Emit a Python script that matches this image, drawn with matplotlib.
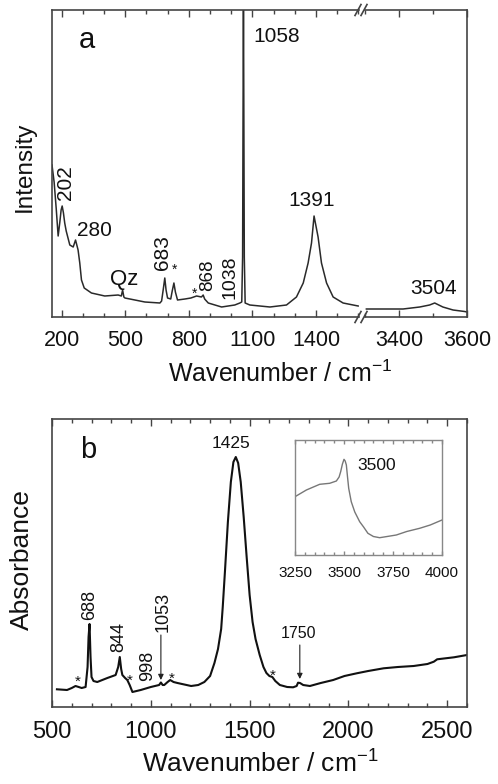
import matplotlib
matplotlib.use("Agg")
import matplotlib.pyplot as plt
from matplotlib.ticker import FixedLocator, MultipleLocator
from matplotlib.lines import Line2D

plt.rcParams['font.family'] = ['Liberation Sans', 'DejaVu Sans']
plt.rcParams['mathtext.fontset'] = 'custom'
plt.rcParams['mathtext.rm'] = 'Liberation Sans'
plt.rcParams['mathtext.it'] = 'Liberation Sans:italic'

# ---------------- data: panel a (Raman) ----------------
a_left_wn = [155, 165, 175, 184, 192, 198, 203, 209, 215, 222, 239, 255, 266, 278, 286, 294,
             307, 341, 404, 467, 482, 488, 494, 499, 593, 664, 672, 680, 687, 693, 700, 715,
             722, 730, 737, 747, 782, 810, 837, 860, 868, 875, 892, 955, 1017, 1041, 1050,
             1054, 1058, 1062, 1066, 1088, 1183, 1261, 1308, 1340, 1363, 1379, 1391, 1410,
             1426, 1450, 1481, 1528, 1599]
a_left_int = [152, 135, 108, 81, 95, 107, 111, 104, 94, 86, 72, 70, 77, 67, 54, 37,
              29, 24, 21, 22, 21, 27, 20, 19, 15, 14, 16, 28, 39, 27, 19, 18,
              26, 34, 25, 17, 18, 19, 21, 20, 22, 18, 14, 10, 12, 14, 15,
              60, 330, 60, 14, 12, 10, 12, 20, 34, 54, 74, 101, 80,
              54, 34, 20, 14, 11]
a_right_wn = [3304, 3363, 3412, 3461, 3490, 3505, 3529, 3559, 3593, 3600]
a_right_int = [8, 8, 8, 10, 12, 14, 10, 7, 5.5, 5]
a_left_ticks = [200, 500, 800, 1100, 1400]
a_right_ticks = [3400, 3600]

# ---------------- data: panel b (IR) ----------------
b_wn = [525, 576, 600, 619, 635, 650, 670, 680, 685, 690, 695, 700, 710, 729, 780, 822,
        835, 843, 850, 856, 870, 881, 893, 907, 949, 1000, 1042, 1051, 1060, 1068, 1085,
        1098, 1115, 1135, 1204, 1240, 1271, 1300, 1322, 1340, 1356, 1364, 1375, 1390,
        1405, 1418, 1430, 1442, 1455, 1470, 1485, 1500, 1515, 1530, 1551, 1570, 1585,
        1600, 1615, 1630, 1653, 1690, 1720, 1738, 1745, 1755, 1771, 1805, 1860, 1923,
        1980, 2042, 2100, 2178, 2250, 2330, 2400, 2432, 2449, 2534, 2600]
b_abs = [17.7, 17, 19, 21, 20, 19, 20, 40, 70, 83, 50, 30, 26, 25, 29, 32,
         40, 50, 38, 32, 29, 27, 22, 15, 17, 20, 22, 24.5, 22, 22, 25,
         27, 25, 24, 21, 22, 25, 31, 44, 58, 78, 100, 135, 185,
         225, 245, 250, 244, 225, 190, 150, 112, 85, 68, 52, 40, 34,
         31, 30, 26, 22, 20, 19.7, 21, 24.3, 24, 22, 21, 24, 27,
         31, 33.7, 36, 38.7, 40, 41, 43, 45.3, 47.7, 49.7, 52]
b_ticks = [500, 1000, 1500, 2000, 2500]

# inset
i_wn = [3250, 3308, 3376, 3427, 3461, 3475, 3483, 3492, 3500, 3506, 3512, 3518, 3524,
        3537, 3555, 3580, 3600, 3622, 3650, 3682, 3720, 3767, 3820, 3886, 3940, 4000]
i_abs = [58.3, 65, 70.7, 71.7, 74, 78, 83.3, 91, 95.7, 94, 90, 78, 66.7,
         53.3, 43, 33.3, 28, 21.7, 18.5, 17.3, 18.5, 20, 23.5, 26.7, 30, 35]
i_ticks = [3250, 3500, 3750, 4000]

W, H = 498, 784
fig = plt.figure(figsize=(W / 100, H / 100), dpi=100)


def fax(x0, y0, x1, y1):
    return fig.add_axes([x0 / W, 1 - y1 / H, (x1 - x0) / W, (y1 - y0) / H])


spc = '#444444'


def style(ax, fs, pad, col=spc, lw=1.2):
    for s in ax.spines.values():
        s.set_color(col)
        s.set_linewidth(lw)
    ax.tick_params(axis='x', which='both', direction='in', top=True, bottom=True,
                   color=col, labelsize=fs, pad=pad, labelcolor='#111111')
    ax.tick_params(axis='x', which='major', length=5, width=1.0)
    ax.tick_params(axis='x', which='minor', length=3, width=1.0)
    ax.tick_params(axis='y', which='both', left=False, right=False, labelleft=False)


# ---------------- panel a ----------------
axL = fax(52, 10, 359, 317)
axR = fax(365, 10, 467, 317)
for ax in (axL, axR):
    style(ax, 15.5, 9)
    ax.set_ylim(0, 307)
axL.spines['right'].set_visible(False)
axR.spines['left'].set_visible(False)
axL.set_xlim(155, 1603)
axR.set_xlim(3300, 3600)
axL.xaxis.set_major_locator(FixedLocator(a_left_ticks))
axL.xaxis.set_minor_locator(MultipleLocator(100))
axR.xaxis.set_major_locator(FixedLocator(a_right_ticks))
axR.xaxis.set_minor_locator(MultipleLocator(100))

axL.plot(a_left_wn, a_left_int, color='#2a2a2a', lw=1.1)
axR.plot(a_right_wn, a_right_int, color='#2a2a2a', lw=1.1)

# break marks
for yc in (10, 317):
    for xs in (355, 361):
        fig.add_artist(Line2D([xs / W, (xs + 6) / W], [1 - (yc + 5.5) / H, 1 - (yc - 5.5) / H],
                              color=spc, lw=1.2))

tk = dict(color='#111111')
axL.text(320, 277, 'a', fontsize=21, ha='center', va='center', **tk)
axL.text(1103, 281, '1058', fontsize=15, ha='left', va='center', **tk)
axL.text(221, 134, '202', fontsize=15, ha='center', va='center', rotation=90, **tk)
axL.text(355, 86, '280', fontsize=15, ha='center', va='center', **tk)
axL.text(495, 37, 'Qz', fontsize=16, ha='center', va='center', **tk)
axL.text(676, 64, '683', fontsize=15, ha='center', va='center', rotation=90, **tk)
axL.text(734, 47, '*', fontsize=10, ha='center', va='center', **tk)
axL.text(829, 23, '*', fontsize=10, ha='center', va='center', **tk)
axL.text(891, 42, '868', fontsize=13.5, ha='center', va='center', rotation=90, **tk)
axL.text(995, 40, '1038', fontsize=14, ha='center', va='center', rotation=90, **tk)
axL.text(1380, 116, '1391', fontsize=15, ha='center', va='center', **tk)
axR.text(3503, 29, '3504', fontsize=15, ha='center', va='center', **tk)

fig.text(25 / W, 1 - 167 / H, 'Intensity', fontsize=17.5, rotation=90,
         ha='center', va='center', **tk)
fig.text(280 / W, 1 - 382 / H, 'Wavenumber / cm$^{\\mathregular{-1}}$', fontsize=18,
         ha='center', va='baseline', **tk)

# ---------------- panel b ----------------
axB = fax(52, 419, 467, 707)
style(axB, 17, 10)
axB.set_xlim(500, 2600)
axB.set_ylim(0, 288)
axB.xaxis.set_major_locator(FixedLocator(b_ticks))
axB.xaxis.set_minor_locator(MultipleLocator(100))
axB.plot(b_wn, b_abs, color='#111111', lw=1.5)

axB.text(682, 257, 'b', fontsize=21, ha='center', va='center', **tk)
axB.text(1408, 264, '1425', fontsize=12.5, ha='center', va='center', **tk)
axB.text(692, 102, '688', fontsize=13, ha='center', va='center', rotation=90, **tk)
axB.text(839, 70, '844', fontsize=13, ha='center', va='center', rotation=90, **tk)
axB.text(986, 41, '998', fontsize=13, ha='center', va='center', rotation=90, **tk)
axB.text(1064, 95, '1053', fontsize=13, ha='center', va='center', rotation=90, **tk)
axB.text(1749, 73, '1750', fontsize=11.5, ha='center', va='center', **tk)
for sx, sy in [(628, 25), (891, 26), (1106, 28), (1617, 31)]:
    axB.text(sx, sy, '*', fontsize=11, ha='center', va='center', **tk)
axB.annotate('', xy=(1051, 27), xytext=(1051, 72),
             arrowprops=dict(arrowstyle='-|>', color='#222222', lw=0.8,
                             mutation_scale=8, shrinkA=0, shrinkB=0))
axB.annotate('', xy=(1754, 28), xytext=(1754, 62),
             arrowprops=dict(arrowstyle='-|>', color='#222222', lw=0.8,
                             mutation_scale=8, shrinkA=0, shrinkB=0))

fig.text(22 / W, 1 - 560 / H, 'Absorbance', fontsize=19, rotation=90,
         ha='center', va='center', **tk)
fig.text(260 / W, 1 - 773 / H, 'Wavenumber / cm$^{\\mathregular{-1}}$', fontsize=19,
         ha='center', va='baseline', **tk)

# ---------------- inset ----------------
axI = fax(295, 440, 442, 555)
style(axI, 11, 8, col='#888888', lw=1.0)
axI.tick_params(axis='x', which='major', length=3)
axI.tick_params(axis='x', which='minor', length=2)
axI.set_xlim(3250, 4000)
axI.set_ylim(0, 115)
axI.xaxis.set_major_locator(FixedLocator(i_ticks))
axI.xaxis.set_minor_locator(MultipleLocator(50))
axI.plot(i_wn, i_abs, color='#777777', lw=1.0)
axI.text(3669, 89, '3500', fontsize=12.5, ha='center', va='center', **tk)

fig.savefig('out.png', dpi=100)
